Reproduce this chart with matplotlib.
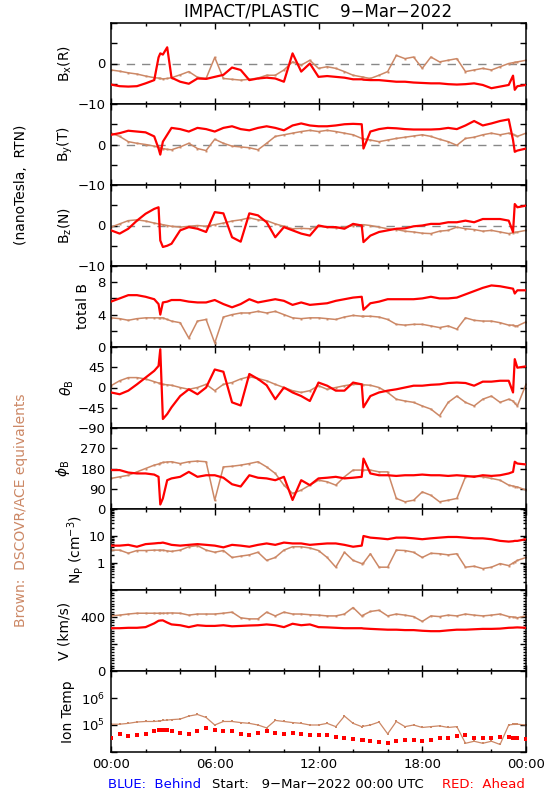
import matplotlib
matplotlib.use('Agg')
import matplotlib.pyplot as plt
from matplotlib.ticker import FixedLocator, FixedFormatter, MultipleLocator, LogLocator, NullFormatter, NullLocator

plt.rcParams['font.family'] = ['DejaVu Sans']
plt.rcParams['mathtext.fontset'] = 'dejavusans'

# time of each sample, hours since 9-Mar-2022 00:00 UTC
hours = [0, 0.5, 1, 1.5, 2, 2.5,
         2.75, 2.85, 3, 3.25,
         3.5, 4, 4.5, 5, 5.5, 6, 6.5, 7, 7.5, 8, 8.5, 9,
         9.5, 10, 10.5, 11, 11.5, 12, 12.5, 13, 13.5, 14, 14.5,
         14.6,
         15, 15.5, 16, 16.5, 17, 17.5, 18, 18.5, 19, 19.5, 20,
         20.5, 21, 21.5, 22, 22.5, 23,
         23.25, 23.35, 23.5, 24]

# red = STEREO Ahead, brown = DSCOVR/ACE
bx_ahead = [-5.2, -5.6, -5.7, -5.6, -4.9, -4.1,
            1.5, 2.5, 2.2, 4.0,
            -3.5, -4.5, -5.0, -3.7, -3.8, -3.3, -2.8, -1.0, -1.6, -4.1, -3.7, -3.5,
            -3.7, -4.5, 2.5, -2.0, 0.0, -3.3, -3.1, -3.3, -3.5, -3.9, -3.9,
            -4.0,
            -4.1, -4.1, -4.3, -4.5, -4.5, -4.7, -4.8, -4.9, -4.9, -5.1, -5.2,
            -5.1, -4.9, -5.3, -6.1, -5.7, -5.3,
            -3.0, -6.5, -5.6, -5.3]
bx_ace = [-1.6, -1.9, -2.3, -2.6, -3.1, -3.5,
          -3.6, -3.7, -3.8, -3.7,
          -3.5, -2.8, -2.0, -3.4, -3.7, 1.5, -3.7, -3.9, -4.1, -3.9, -3.6, -2.9,
          -2.9, -1.6, 0.4, -0.4, 0.8, -1.2, -0.8, -1.2, -2.0, -2.9, -3.3,
          -3.4,
          -3.7, -2.9, -2.0, 2.0, 1.2, 1.6, -1.2, 1.6, 0.4, 0.8, 1.2,
          -2.0, -1.6, -1.2, -1.6, -0.8, 0.0,
          0.2, 0.3, 0.4, 0.8]

by_ahead = [2.4, 2.8, 3.4, 3.2, 3.0, 2.0,
            -1.0, -2.5, 0.7, 2.4,
            4.1, 3.8, 3.2, 4.1, 3.8, 3.2, 4.1, 4.5, 3.8, 3.5, 4.1, 4.5,
            4.1, 3.5, 4.7, 5.2, 4.7, 4.5, 4.5, 4.7, 5.0, 5.1, 5.0,
            -1.0,
            3.2, 3.8, 4.1, 4.0, 3.8, 3.7, 3.7, 3.7, 3.8, 4.1, 3.8,
            4.7, 5.8, 4.7, 5.2, 5.8, 6.2,
            1.1, -1.8, -1.5, -1.0]
by_ace = [2.8, 2.0, 0.7, 0.3, 0.0, -0.4,
          -0.7, -0.8, -1.0, -1.2,
          -1.3, -0.6, 0.3, -1.0, -1.5, 1.3, 0.3, -0.4, -0.6, -0.8, -1.3, 0.3,
          2.0, 2.4, 2.8, 3.2, 3.5, 3.2, 3.5, 3.2, 2.8, 2.4, 1.5,
          1.4,
          1.1, 0.7, 1.1, 1.5, 1.8, 2.1, 2.4, 2.0, 1.3, 0.7, -0.2,
          1.5, 1.8, 2.4, 2.8, 2.4, 2.8,
          2.5, 2.3, 2.0, 2.8]

bz_ahead = [-1.2, -2.0, -0.8, 1.2, 2.9, 4.1,
            4.5, -3.7, -5.3, -5.0,
            -4.5, -1.2, -0.4, -0.8, -1.6, 3.3, 3.0, -2.9, -4.0, 3.0, 2.5, 0.8,
            -2.9, -0.4, -1.2, -2.0, -2.5, 0.0, -0.4, -0.4, -0.8, 0.4, 0.0,
            -4.1,
            -2.5, -1.6, -1.2, -0.8, -0.7, -0.2, 0.0, 0.4, 0.4, 0.8, 0.8,
            1.2, 0.8, 1.6, 1.6, 1.6, 1.2,
            -1.6, 5.3, 4.5, 4.9]
bz_ace = [-0.4, 0.4, 1.2, 1.4, 1.1, 0.6,
          0.4, 0.3, 0.2, 0.0,
          -0.2, -0.4, -0.2, 0.0, -0.2, 0.2, 0.6, 1.1, 1.4, 1.9, 1.4, 1.2,
          0.4, -0.2, -0.8, -0.7, -0.8, -0.2, -0.4, -0.6, -0.4, 0.0, 0.2,
          0.2,
          0.0, -0.4, -0.8, -1.0, -1.4, -1.6, -1.9, -2.0, -1.4, -1.2, -0.4,
          -0.8, -1.0, -1.4, -1.2, -1.6, -2.0,
          -1.8, -1.7, -1.6, -1.2]

bt_ahead = [5.6, 6.0, 6.4, 6.4, 6.2, 5.9,
            5.3, 4.0, 5.5, 5.6,
            5.8, 5.8, 5.6, 5.5, 5.5, 5.8, 5.3, 4.9, 5.3, 5.9, 5.5, 5.7,
            5.9, 5.7, 5.2, 5.5, 5.2, 5.3, 5.4, 5.7, 5.9, 6.1, 6.2,
            4.6,
            5.4, 5.6, 5.9, 5.9, 5.9, 5.9, 6.0, 6.2, 6.0, 6.0, 6.1,
            6.5, 6.9, 7.3, 7.6, 7.5, 7.3,
            7.2, 6.6, 7.0, 7.0]
bt_ace = [3.6, 3.5, 3.3, 3.5, 3.6, 3.6,
          3.6, 3.6, 3.6, 3.4,
          3.2, 3.0, 1.1, 3.2, 3.4, 0.5, 3.7, 4.0, 4.2, 4.2, 4.4, 4.2,
          4.4, 4.0, 3.6, 3.5, 3.6, 3.6, 3.5, 3.4, 3.7, 3.9, 3.8,
          3.8,
          3.8, 3.7, 3.4, 2.8, 2.7, 2.8, 2.8, 2.6, 2.4, 2.6, 2.2,
          3.6, 3.3, 3.2, 3.2, 3.0, 2.7,
          2.7, 2.6, 2.6, 3.1]

theta_ahead = [-11, -15, -7, 7, 22, 37,
               48, 85, -70, -59,
               -44, -19, -4, -15, 0, 40, 35, -33, -40, 30, 19, 5,
               -26, 0, -11, -19, -30, 11, 4, -7, -7, 11, 7,
               -44,
               -19, -11, -7, -4, 0, 4, 4, 6, 7, 10, 11,
               10, 4, 13, 13, 15, 15,
               -11, 63, 44, 47]
theta_ace = [4, 15, 22, 22, 19, 13,
             10, 9, 7, 6,
             5, 0, -4, 0, 7, -7, 7, 11, 19, 24, 20, 15,
             7, 0, -7, -11, -7, 4, -4, 0, 4, 7, 7,
             6,
             5, 0, -11, -26, -30, -33, -41, -48, -63, -33, -19,
             -33, -41, -26, -19, -33, -26,
             -30, -35, -41, 7]

phi_ahead = [173, 173, 162, 158, 158, 153,
             143, 20, 47, 128,
             136, 143, 165, 143, 150, 150, 139, 110, 100, 150, 139, 136,
             128, 143, 40, 128, 106, 136, 139, 143, 136, 139, 143,
             224,
             158, 150, 150, 147, 150, 150, 153, 150, 150, 147, 150,
             147, 143, 150, 147, 150, 158,
             165, 210, 202, 198]
phi_ace = [136, 143, 150, 165, 180, 195,
           200, 203, 207, 209,
           210, 202, 210, 213, 210, 39, 187, 190, 195, 202, 210, 187,
           158, 106, 69, 84, 106, 128, 121, 106, 143, 173, 173,
           173,
           173, 165, 165, 47, 32, 39, 76, 61, 32, 39, 47,
           143, 147, 143, 136, 128, 106,
           102, 100, 98, 84]

np_ahead = [4.4, 4.4, 4.7, 4.0, 5.0, 5.3,
            5.5, 5.5, 5.7, 5.2,
            4.7, 4.4, 4.7, 5.0, 4.7, 4.4, 3.8, 4.7, 4.4, 4.0, 4.7, 5.3,
            4.7, 5.7, 5.3, 5.3, 4.7, 5.0, 5.3, 5.3, 4.7, 4.0, 4.4,
            10.0,
            8.7, 8.2, 7.6, 8.7, 8.7, 8.2, 7.6, 8.2, 8.7, 9.2, 9.2,
            8.7, 8.2, 8.2, 7.6, 6.6, 6.2,
            6.4, 6.6, 6.6, 7.6]
np_ace = [3.0, 3.0, 2.3, 2.9, 2.9, 3.0,
          3.0, 3.0, 3.0, 2.8,
          2.7, 3.0, 4.0, 4.4, 3.0, 2.5, 2.9, 1.6, 1.8, 2.0, 2.5, 1.25,
          1.6, 3.0, 4.0, 4.0, 3.6, 2.9, 1.6, 0.7, 2.5, 1.25, 0.95,
          1.0,
          2.2, 0.7, 0.7, 3.0, 2.9, 2.5, 1.6, 2.3, 2.2, 2.0, 2.2,
          0.7, 0.76, 0.62, 0.7, 0.95, 0.8,
          1.0, 1.1, 1.25, 1.6]

v_ahead = [317, 317, 320, 320, 325, 353,
           372, 374, 375, 359,
           345, 339, 325, 339, 334, 334, 339, 331, 334, 337, 339, 345,
           339, 325, 350, 339, 345, 325, 323, 320, 317, 317, 317,
           315,
           312, 309, 306, 306, 303, 303, 298, 295, 295, 301, 306,
           306, 309, 312, 312, 314, 320,
           321, 322, 323, 320]
v_ace = [408, 414, 422, 428, 428, 428,
         428, 428, 428, 429,
         430, 428, 414, 422, 422, 422, 428, 436, 394, 386, 386, 436,
         408, 436, 422, 422, 417, 414, 408, 408, 422, 470, 408,
         415,
         441, 450, 408, 422, 414, 403, 367, 408, 403, 414, 408,
         422, 414, 408, 414, 422, 403,
         400, 398, 394, 408]

temp_ahead = [3.2e4, 4.7e4, 3.8e4, 4.1e4, 4.7e4, 5.8e4,
              6.3e4, 6.5e4, 6.8e4, 6.3e4,
              6.0e4, 5.2e4, 4.7e4, 6.0e4, 7.8e4, 6.3e4, 6.0e4, 5.8e4, 4.7e4, 4.1e4, 5.2e4, 6.0e4,
              4.9e4, 4.7e4, 5.2e4, 4.7e4, 4.1e4, 4.1e4, 4.4e4, 3.6e4, 3.2e4, 3.0e4, 2.8e4,
              2.7e4,
              2.5e4, 2.3e4, 2.1e4, 2.5e4, 2.8e4, 2.8e4, 2.6e4, 2.8e4, 3.2e4, 3.4e4, 3.8e4,
              4.1e4, 3.4e4, 3.2e4, 3.4e4, 3.6e4, 3.6e4,
              3.4e4, 3.3e4, 3.2e4, 3.0e4]
temp_ace = [1.07e5, 1.07e5, 1.15e5, 1.29e5, 1.35e5, 1.35e5,
            1.4e5, 1.42e5, 1.48e5, 1.52e5,
            1.58e5, 1.66e5, 2.14e5, 2.45e5, 1.9e5, 1.0e5, 1.35e5, 1.35e5, 1.23e5, 1.15e5, 1.0e5, 7.8e4,
            1.48e5, 1.35e5, 1.23e5, 1.15e5, 1.0e5, 1.0e5, 1.15e5, 8.7e4, 2.14e5, 1.15e5, 8.7e4,
            9.0e4,
            1.0e5, 1.29e5, 4.7e4, 1.35e5, 8.7e4, 1.0e5, 8.1e4, 8.7e4, 9.3e4, 8.1e4, 8.7e4,
            2.1e4, 2.5e4, 2.1e4, 2.5e4, 1.9e4, 1.0e5,
            1.05e5, 1.05e5, 1.07e5, 1.0e5]

time_ticks = [0, 6, 12, 18, 24]
time_labels = ['00:00', '06:00', '12:00', '18:00', '00:00']

RED = '#ff0000'
BROWN = '#cc8866'

# (label, label x in px, ahead, ace, ylim, ticks, ticklabels, log)
panels = [
    (r'B$_\mathregular{x}$(R)', 65, bx_ahead, bx_ace, (-10, 10), [-10, -5, 0, 5, 10], ['\u221210', '', '0', '', ''], False),
    (r'B$_\mathregular{y}$(T)', 65, by_ahead, by_ace, (-10, 10), [-10, -5, 0, 5, 10], ['\u221210', '', '0', '', ''], False),
    (r'B$_\mathregular{z}$(N)', 65, bz_ahead, bz_ace, (-10, 10), [-10, -5, 0, 5, 10], ['\u221210', '', '0', '', ''], False),
    ('total B', 83, bt_ahead, bt_ace, (0, 10), [0, 2, 4, 6, 8, 10], ['0', '', '4', '', '8', ''], False),
    (r'$\theta_\mathregular{B}$', 67, theta_ahead, theta_ace, (-90, 90), [-90, -45, 0, 45, 90], ['\u221290', '\u221245', '0', '45', ''], False),
    (r'$\phi_\mathregular{B}$', 63, phi_ahead, phi_ace, (0, 360), [0, 90, 180, 270, 360], ['0', '90', '180', '270', ''], False),
    (r'N$_\mathregular{P}$ (cm$^{\mathregular{-3}}$)', 75, np_ahead, np_ace, (0.1, 100), [0.1, 1, 10, 100], ['', '1', '10', ''], True),
    ('V (km/s)', 65, v_ahead, v_ace, (0, 600), [0, 200, 400, 600], ['0', '', '400', ''], False),
    ('Ion Temp', 68, temp_ahead, temp_ace, (1e4, 1e7), [1e4, 1e5, 1e6, 1e7], ['', r'10$^\mathregular{5}$', r'10$^\mathregular{6}$', ''], True),
]

W, H = 550, 800
left, right = 111, 526
top0, ph = 23, 81

fig = plt.figure(figsize=(W / 100, H / 100), dpi=100)

for i, (label, lx, ahead, ace, ylim, ticks, ticklabels, logy) in enumerate(panels):
    bottom = top0 + ph * (i + 1)
    ax = fig.add_axes([left / W, 1 - bottom / H, (right - left) / W, ph / H])
    if logy:
        ax.set_yscale('log')

    if i < 3:
        ax.axhline(0, color='#888888', lw=1, dashes=(6, 5), zorder=1)

    if i == 8:
        ax.plot(hours, ace, color=BROWN, lw=0.9, marker='s', ms=1.6, mew=0, zorder=2)
        ax.plot(hours, ahead, color=RED, lw=0, marker='s', ms=3.2, mew=0, zorder=3)
    else:
        ax.plot(hours, ace, color=BROWN, lw=1.1, marker='s', ms=1.4, mew=0, zorder=2)
        ax.plot(hours, ahead, color=RED, lw=1.6, zorder=3)

    ax.set_xlim(0, 24)
    ax.set_ylim(*ylim)
    ax.yaxis.set_major_locator(FixedLocator(ticks))
    ax.yaxis.set_major_formatter(FixedFormatter(ticklabels))
    if i == 6:
        ax.yaxis.set_minor_locator(LogLocator(base=10, subs=range(2, 10)))
        ax.yaxis.set_minor_formatter(NullFormatter())
    elif i == 7:
        ax.yaxis.set_minor_locator(MultipleLocator(20))
    else:
        ax.yaxis.set_minor_locator(NullLocator())
        ax.yaxis.set_minor_formatter(NullFormatter())

    ax.xaxis.set_major_locator(FixedLocator(time_ticks))
    ax.xaxis.set_minor_locator(MultipleLocator(2))
    if i == len(panels) - 1:
        ax.xaxis.set_major_formatter(FixedFormatter(time_labels))
    else:
        ax.xaxis.set_major_formatter(NullFormatter())

    ax.tick_params(which='both', direction='in', top=True, right=True, labelsize=9.5, width=1, pad=4)
    ax.tick_params(which='major', length=4.5)
    ax.tick_params(which='minor', length=2.5)
    for s in ax.spines.values():
        s.set_linewidth(1.1)

    fig.text(lx / W, 1 - (bottom - ph / 2) / H, label, rotation=90, ha='center', va='center', fontsize=10)

fig.text(318 / W, 1 - 12 / H, 'IMPACT/PLASTIC    9\u2212Mar\u22122022', ha='center', va='center', fontsize=12)
fig.text(21 / W, 1 - 185 / H, '(nanoTesla,  RTN)', rotation=90, ha='center', va='center', fontsize=10)
fig.text(21 / W, 1 - 510 / H, 'Brown:  DSCOVR/ACE equivalents', rotation=90, ha='center', va='center', fontsize=10, color=BROWN)
fig.text(155 / W, 1 - 784 / H, 'BLUE:  Behind', ha='center', va='center', fontsize=9.5, color='#0000ff')
fig.text(318 / W, 1 - 784 / H, 'Start:   9\u2212Mar\u22122022 00:00 UTC', ha='center', va='center', fontsize=9.5)
fig.text(525 / W, 1 - 784 / H, 'RED:  Ahead', ha='right', va='center', fontsize=9.5, color=RED)

fig.savefig('out.png', dpi=100, facecolor='white')
